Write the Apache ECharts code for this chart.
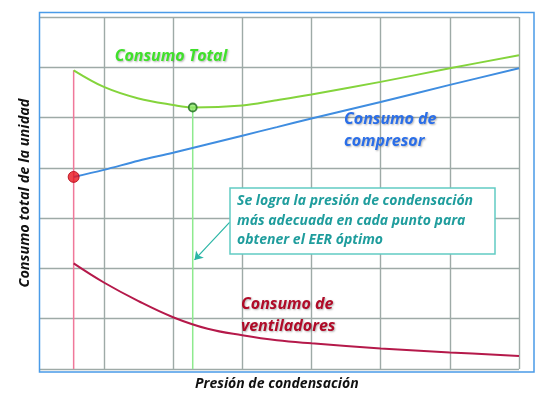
<!DOCTYPE html>
<html>
<head>
<meta charset="utf-8">
<script src="https://cdn.jsdelivr.net/npm/echarts@6/dist/echarts.min.js"></script>
<style>
  html, body { margin: 0; padding: 0; background: #fff; }
  #chart { width: 550px; height: 404px; }
</style>
</head>
<body>
<div id="chart"></div>
<script>
// pressure positions (arbitrary units, 0..7)
const totalX = [0.563, 1, 1.5, 2, 2.284, 3, 3.47, 4, 5, 6, 7];
const partX = [0.563, 1, 1.5, 2, 2.5, 3, 3.5, 4, 5, 6, 7];
// consumption curves
const totalValues = [5.94, 5.61, 5.38, 5.25, 5.20, 5.24, 5.34, 5.46, 5.71, 5.98, 6.24];
const compressorValues = [3.82, 3.96, 4.14, 4.30, 4.47, 4.64, 4.81, 4.98, 5.31, 5.65, 5.98];
const fanValues = [2.10, 1.72, 1.35, 1.03, 0.80, 0.67, 0.57, 0.51, 0.41, 0.33, 0.26];

// marked points
const startPoint = [0.563, 3.82];
const optimumPoint = [2.284, 5.20];
const startTop = 5.94;
const arrowFrom = [2.82, 2.92];
const arrowTo = [2.31, 2.17];

const FONT = "Open Sans";
const GRID = "#9eaaa7";

function pairs(xs, ys) {
  return xs.map((x, i) => [x, ys[i]]);
}

const chart = echarts.init(document.getElementById("chart"));

const shadow = {
  textShadowColor: "rgba(0,0,0,0.3)", textShadowBlur: 2, textShadowOffsetX: 1, textShadowOffsetY: 1
};

const option = {
  animation: false,
  grid: { left: 34.7, right: 31, top: 17, bottom: 35 },
  xAxis: {
    type: "value",
    min: 0,
    max: 7,
    interval: 1,
    name: "Presión de condensación",
    nameLocation: "middle",
    nameGap: 8,
    nameTextStyle: { fontFamily: FONT, fontWeight: "bold", fontStyle: "italic", fontSize: 14, color: "#111" },
    axisLine: { show: false },
    axisTick: { show: false },
    axisLabel: { show: false },
    splitLine: {
      show: true,
      lineStyle: { color: ["transparent", GRID, GRID, GRID, GRID, GRID, GRID, GRID], width: 1.4 }
    }
  },
  yAxis: {
    type: "value",
    min: 0,
    max: 7,
    interval: 1,
    name: "Consumo total de la unidad",
    nameLocation: "middle",
    nameGap: 2,
    nameTextStyle: { fontFamily: FONT, fontWeight: "bold", fontStyle: "italic", fontSize: 14.5, color: "#111" },
    axisLine: { show: false },
    axisTick: { show: false },
    axisLabel: { show: false },
    splitLine: { show: true, lineStyle: { color: GRID, width: 1.4 } }
  },
  series: [
    {
      type: "line",
      data: [[startPoint[0], 0], [startPoint[0], startTop]],
      symbol: "none",
      lineStyle: { color: "#f0789a", width: 1.5 },
      z: 2
    },
    {
      type: "line",
      data: [[optimumPoint[0], 0], optimumPoint],
      symbol: "none",
      lineStyle: { color: "#8eea8e", width: 1.5 },
      z: 2
    },
    {
      name: "Consumo Total",
      type: "line",
      data: pairs(totalX, totalValues),
      smooth: 0.35,
      symbol: "none",
      lineStyle: { color: "#84d43c", width: 2 },
      z: 3
    },
    {
      name: "Consumo de compresor",
      type: "line",
      data: pairs(partX, compressorValues),
      smooth: 0.35,
      symbol: "none",
      lineStyle: { color: "#3f8de0", width: 2 },
      z: 3
    },
    {
      name: "Consumo de ventiladores",
      type: "line",
      data: pairs(partX, fanValues),
      smooth: 0.4,
      symbol: "none",
      lineStyle: { color: "#b5194a", width: 2 },
      z: 3,
      markLine: {
        silent: true,
        symbol: ["none", "arrow"],
        symbolSize: 8,
        label: { show: false },
        lineStyle: { color: "#2ab5a5", width: 1.2, type: "solid" },
        data: [[{ coord: arrowFrom }, { coord: arrowTo }]]
      }
    },
    {
      type: "scatter",
      data: [startPoint],
      symbolSize: 11,
      itemStyle: { color: "#e8141e", borderColor: "#b00010", borderWidth: 1 },
      z: 5
    },
    {
      type: "scatter",
      data: [optimumPoint],
      symbolSize: 8,
      itemStyle: { color: "#8ee86a", borderColor: "#1e6a1e", borderWidth: 1.8 },
      z: 5
    }
  ],
  graphic: [
    {
      type: "rect",
      shape: { x: 32, y: 10, width: 7, height: 365 },
      style: { fill: "#fff" },
      z: 1
    },
    {
      type: "rect",
      shape: { x: 39.5, y: 12.5, width: 494.5, height: 359.5 },
      style: { fill: "none", stroke: "#4a9be8", lineWidth: 1.5 },
      z: 1
    },
    {
      type: "text",
      x: 171, y: 56,
      style: Object.assign({
        text: "Consumo Total",
        align: "center", verticalAlign: "middle",
        font: "italic bold 16px 'Open Sans'",
        fill: "#3fe02a"
      }, shadow),
      z: 10
    },
    {
      type: "text",
      x: 344, y: 108,
      style: Object.assign({
        text: "Consumo de\ncompresor",
        font: "italic bold 16px 'Open Sans'",
        lineHeight: 22,
        fill: "#2a6ee8"
      }, shadow),
      z: 10
    },
    {
      type: "text",
      x: 241, y: 293,
      style: Object.assign({
        text: "Consumo de\nventiladores",
        font: "italic bold 16px 'Open Sans'",
        lineHeight: 22,
        fill: "#b00b28"
      }, shadow),
      z: 10
    },
    {
      type: "rect",
      shape: { x: 230, y: 188, width: 265, height: 66 },
      style: { fill: "#fff", stroke: "#62ccc4", lineWidth: 1.5 },
      z: 8
    },
    {
      type: "text",
      x: 237, y: 191,
      style: {
        text: "Se logra la presión de condensación\nmás adecuada en cada punto para\nobtener el EER óptimo",
        font: "italic bold 14px 'Open Sans'",
        lineHeight: 19.8,
        fill: "#1f9d9d"
      },
      z: 10
    }
  ]
};

chart.setOption(option);
</script>
</body>
</html>
